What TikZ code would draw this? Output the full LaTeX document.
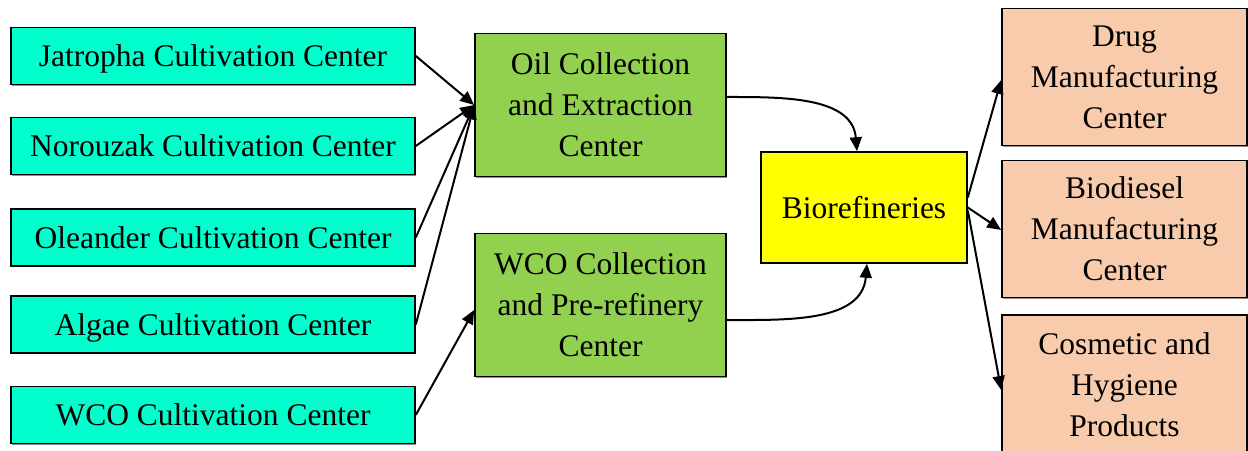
\documentclass[tikz,border=0pt]{standalone}
\usepackage{fontspec}
\setmainfont{Liberation Serif}
\usetikzlibrary{arrows.meta,shadows}
\definecolor{srccol}{HTML}{00FFCC}
\definecolor{midcol}{HTML}{92D050}
\definecolor{biocol}{HTML}{FFFF00}
\definecolor{outcol}{HTML}{F8CBAD}
\begin{document}
\begin{tikzpicture}[x=1pt,y=1pt,
  box/.style={draw=black,line width=1.6pt,inner sep=0pt,align=center,
    font=\fontsize{31.5}{41}\selectfont,
    drop shadow={shadow xshift=1.3pt,shadow yshift=-1.3pt,fill=black!45,opacity=1}},
  src/.style={box,fill=srccol,minimum width=404pt,minimum height=57pt,text depth=0pt},
  mid/.style={box,fill=midcol,minimum width=251pt,minimum height=143pt},
  biobox/.style={box,fill=biocol,minimum width=206pt,minimum height=111pt,text depth=0pt},
  outbox/.style={box,fill=outcol,minimum width=245pt,minimum height=137pt},
  arr/.style={line width=2pt,-{Triangle[length=14pt,width=12pt]}}]
\useasboundingbox[fill=white] (0,0) rectangle (1248,450);

\node[src] (jat) at (213,394) {Jatropha Cultivation Center};
\node[src] (nor) at (213,304) {Norouzak Cultivation Center};
\node[src] (ole) at (213,212.5) {Oleander Cultivation Center};
\node[src] (alg) at (213,125.5) {Algae Cultivation Center};
\node[src] (wco) at (213,35) {WCO Cultivation Center};

\node[mid] (oil) at (600.5,345) {Oil Collection\\and Extraction\\Center};
\node[mid] (pre) at (600.5,145) {WCO Collection\\and Pre-refinery\\Center};

\node[biobox] (bio) at (864,242.5) {Biorefineries};

\node[outbox] (drug) at (1124.5,373) {Drug\\Manufacturing\\Center};
\node[outbox] (bdsl) at (1124.5,221) {Biodiesel\\Manufacturing\\Center};
\node[outbox,minimum height=140pt] (cosm) at (1124.5,65) {Cosmetic and\\Hygiene\\Products};

\draw[arr] (jat.east) -- (oil.west);
\draw[arr] (nor.east) -- (oil.west);
\draw[arr] (ole.east) -- (oil.west);
\draw[arr] (alg.east) -- (oil.west);
\draw[arr] (wco.east) -- ([yshift=-5pt]pre.west);

\draw[arr] ([yshift=8pt]oil.east) to[out=0,in=95] ([xshift=-7pt]bio.north);
\draw[arr] ([yshift=-15pt]pre.east) to[out=0,in=-95] ([xshift=3pt]bio.south);

\draw[arr] ([yshift=10pt]bio.east) -- ([yshift=-3pt]drug.west);
\draw[arr] (bio.east) -- ([yshift=-1pt]bdsl.west);
\draw[arr] ([yshift=-3pt]bio.east) -- ([yshift=-5pt]cosm.west);
\end{tikzpicture}
\end{document}
